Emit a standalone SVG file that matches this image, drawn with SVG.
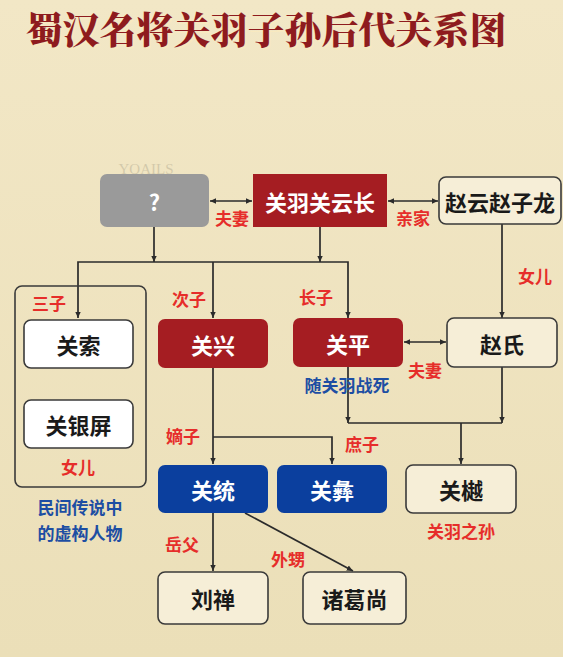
<svg xmlns="http://www.w3.org/2000/svg" width="563" height="657" viewBox="0 0 563 657">
<defs>
<linearGradient id="bg" x1="0" y1="0" x2="0" y2="1">
<stop offset="0" stop-color="#f2e7c6"/>
<stop offset="1" stop-color="#ebdfb8"/>
</linearGradient>
<marker id="ah" viewBox="0 0 10 10" refX="9" refY="5" markerWidth="7" markerHeight="7" orient="auto-start-reverse" markerUnits="userSpaceOnUse">
<path d="M0,1 L9,5 L0,9 z" fill="#2b2b2b"/>
</marker>
<style>
.t{font-family:"Noto Sans CJK SC","Noto Sans",sans-serif;font-weight:700;text-anchor:middle;dominant-baseline:central}
.nw{font-size:22px;fill:#ffffff}
.nb{font-size:22px;fill:#1a1a1a}
.lr{font-size:17px;fill:#e62d2a}
.lb{font-size:17px;fill:#1d4ea3}
.red{fill:#a51d22}
.blue{fill:#0b3f9e}
.cream{fill:#f6eed7;stroke:#3a3a3a;stroke-width:1.6}
.white{fill:#ffffff;stroke:#3a3a3a;stroke-width:1.6}
.c line,.c path{stroke:#2b2b2b;stroke-width:1.7;fill:none}
</style>
</defs>
<rect width="563" height="657" fill="url(#bg)"/>
<text x="266" y="28" class="t" style="font-size:37px;font-family:'Noto Serif CJK SC','Noto Sans CJK SC',serif;font-weight:900;fill:#f8e9c0" dx="1.5" dy="1.5">蜀汉名将关羽子孙后代关系图</text>
<text x="266" y="28" class="t" style="font-size:37px;font-family:'Noto Serif CJK SC','Noto Sans CJK SC',serif;font-weight:900;fill:#8e1b1e">蜀汉名将关羽子孙后代关系图</text>
<text x="146" y="174" style="font-family:'Liberation Serif',serif;font-size:15px;fill:#000;opacity:0.12" text-anchor="middle">YQAILS</text>

<g class="c">
<line x1="210" y1="201" x2="252" y2="201" marker-start="url(#ah)" marker-end="url(#ah)"/>
<line x1="388" y1="201" x2="438" y2="201" marker-start="url(#ah)" marker-end="url(#ah)"/>
<line x1="154" y1="227" x2="154" y2="262" marker-end="url(#ah)"/>
<line x1="320" y1="227" x2="320" y2="262" marker-end="url(#ah)"/>
<path d="M78,318 V262 H348 V318" marker-start="url(#ah)" marker-end="url(#ah)"/>
<line x1="213" y1="262" x2="213" y2="318" marker-end="url(#ah)"/>
<line x1="502" y1="224" x2="502" y2="318" marker-end="url(#ah)"/>
<line x1="404" y1="342" x2="446" y2="342" marker-start="url(#ah)" marker-end="url(#ah)"/>
<line x1="348" y1="367" x2="348" y2="423" marker-end="url(#ah)"/>
<line x1="502" y1="367" x2="502" y2="423" marker-end="url(#ah)"/>
<line x1="348" y1="423" x2="502" y2="423"/>
<line x1="461" y1="423" x2="461" y2="464" marker-end="url(#ah)"/>
<line x1="213" y1="368" x2="213" y2="464" marker-end="url(#ah)"/>
<path d="M213,437 H332 V464" marker-end="url(#ah)"/>
<line x1="213" y1="513" x2="213" y2="571" marker-end="url(#ah)"/>
<line x1="245" y1="513" x2="353" y2="571" marker-end="url(#ah)"/>
</g>

<rect x="15" y="286" width="131" height="201" rx="7" fill="none" stroke="#3a3a3a" stroke-width="1.6"/>

<g id="wife"><rect x="100" y="174" width="109" height="53" rx="7" fill="#9a9a9a"/><text x="154.5" y="201" class="t nw">?</text></g>
<g id="guanyu"><rect x="253" y="174" width="134" height="53" class="red"/><text x="320" y="201" class="t nw">关羽关云长</text></g>
<g id="zhaoyun"><rect x="439" y="177" width="122" height="47" rx="7" class="cream"/><text x="500" y="201" class="t nb">赵云赵子龙</text></g>
<g id="guansuo"><rect x="24" y="320" width="109" height="48" rx="7" class="white"/><text x="78.5" y="344" class="t nb">关索</text></g>
<g id="guanyinping"><rect x="24" y="400" width="109" height="48" rx="7" class="white"/><text x="78.5" y="424" class="t nb">关银屏</text></g>
<g id="guanxing"><rect x="158" y="319" width="110" height="49" rx="7" class="red"/><text x="213" y="343.5" class="t nw">关兴</text></g>
<g id="guanping"><rect x="293" y="318" width="110" height="49" rx="7" class="red"/><text x="348" y="342.5" class="t nw">关平</text></g>
<g id="zhaoshi"><rect x="447" y="318" width="110" height="49" rx="7" class="cream"/><text x="502" y="342.5" class="t nb">赵氏</text></g>
<g id="guantong"><rect x="158" y="465" width="110" height="48" rx="7" class="blue"/><text x="213" y="489" class="t nw">关统</text></g>
<g id="guanyi"><rect x="277" y="465" width="110" height="48" rx="7" class="blue"/><text x="332" y="489" class="t nw">关彝</text></g>
<g id="guanyue"><rect x="406" y="465" width="110" height="48" rx="7" class="cream"/><text x="461" y="489" class="t nb">关樾</text></g>
<g id="liushan"><rect x="158" y="572" width="110" height="52" rx="7" class="cream"/><text x="213" y="598" class="t nb">刘禅</text></g>
<g id="zhugeshang"><rect x="303" y="572" width="103" height="52" rx="7" class="cream"/><text x="354.5" y="598" class="t nb">诸葛尚</text></g>

<g id="labels">
<text x="232" y="217" class="t lr">夫妻</text>
<text x="413" y="217" class="t lr">亲家</text>
<text x="535" y="275" class="t lr">女儿</text>
<text x="49" y="302" class="t lr">三子</text>
<text x="189" y="298" class="t lr">次子</text>
<text x="316" y="296" class="t lr">长子</text>
<text x="425" y="369" class="t lr">夫妻</text>
<text x="347" y="384" class="t lb">随关羽战死</text>
<text x="183" y="435" class="t lr">嫡子</text>
<text x="362" y="443" class="t lr">庶子</text>
<text x="78" y="466" class="t lr">女儿</text>
<text x="80" y="506" class="t lb">民间传说中</text>
<text x="80" y="532" class="t lb">的虚构人物</text>
<text x="461" y="530" class="t lr">关羽之孙</text>
<text x="182" y="543" class="t lr">岳父</text>
<text x="288" y="558" class="t lr">外甥</text>
</g>
</svg>
